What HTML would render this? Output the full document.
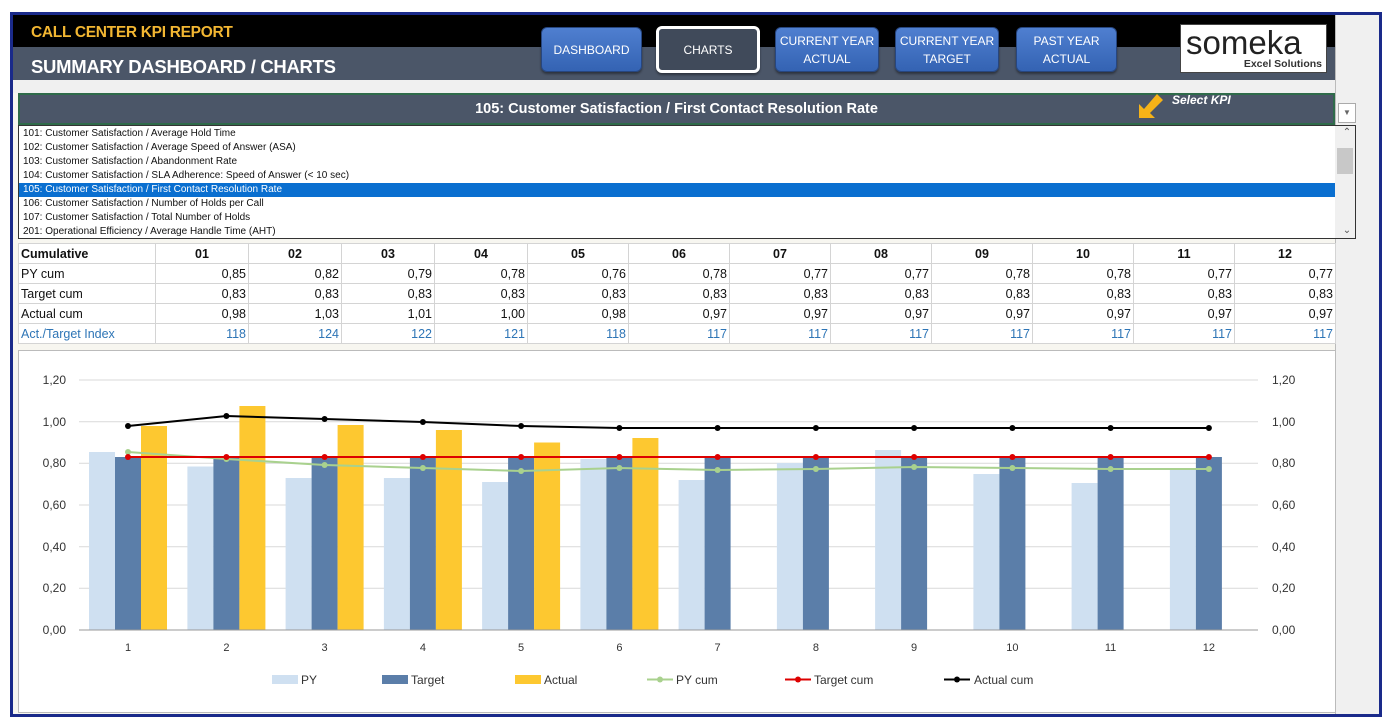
<!DOCTYPE html>
<html><head><meta charset="utf-8"><style>
*{margin:0;padding:0;box-sizing:border-box}
body{width:1392px;height:727px;background:#fff;position:relative;overflow:hidden;font-family:"Liberation Sans",sans-serif}
.abs{position:absolute}
.frame{left:10px;top:12px;width:1372px;height:705px;border:3px solid #1a2a8a;background:#f7f6f0}
.btn{position:absolute;top:27px;height:45px;background:linear-gradient(#4f7fd0,#3463b3);border:1px solid #27467f;border-radius:6px;color:#fff;font-size:12px;text-align:center;display:flex;align-items:center;justify-content:center;line-height:18px;box-shadow:0 2px 2px rgba(0,0,0,.4)}
.list div{height:14px;font-size:10px;line-height:14px;padding-left:4px;color:#111;white-space:nowrap}
table{border-collapse:collapse;position:absolute;left:18px;top:243px;font-size:12.5px;background:#fff}
td{border:1px solid #d4d4d4;height:20px;padding:0 2px;text-align:right;color:#111}
td:first-child{text-align:left;width:137px}
tr.h td{font-weight:bold;text-align:center}
tr.h td:first-child{text-align:left}
tr.i td{color:#2e75b6}
</style></head><body>
<div class="abs frame"></div>
<div class="abs" style="left:13px;top:15px;width:1322px;height:32px;background:#000"></div>
<div class="abs" style="left:13px;top:47px;width:1322px;height:33px;background:#4b5668"></div>
<div class="abs" style="left:1335px;top:15px;width:44px;height:699px;background:#f0f0f0;border-left:1px solid #bbb"></div>
<div class="abs" style="left:31px;top:24px;color:#f2b632;font-weight:bold;font-size:15.5px;letter-spacing:-0.3px">CALL CENTER KPI REPORT</div>
<div class="abs" style="left:31px;top:56px;color:#fff;font-weight:bold;font-size:18.5px;letter-spacing:-0.3px">SUMMARY DASHBOARD / CHARTS</div>
<div class="btn" style="left:541px;width:101px">DASHBOARD</div>
<div class="btn" style="left:656px;width:104px;background:#404a5a;border:3px solid #fff;top:26px;height:47px">CHARTS</div>
<div class="btn" style="left:775px;width:104px">CURRENT YEAR<br>ACTUAL</div>
<div class="btn" style="left:895px;width:104px">CURRENT YEAR<br>TARGET</div>
<div class="btn" style="left:1016px;width:101px">PAST YEAR<br>ACTUAL</div>
<div class="abs" style="left:1180px;top:24px;width:147px;height:49px;background:#fff;border:1px solid #444">
<div class="abs" style="left:5px;top:-1px;font-size:33px;color:#222">someka</div>
<div class="abs" style="right:4px;top:33px;font-size:10.5px;font-weight:bold;color:#333">Excel Solutions</div></div>
<div class="abs" style="left:13px;top:80px;width:1322px;height:13px;background:#f0f0f0"></div>
<div class="abs" style="left:18px;top:93px;width:1317px;height:32px;background:#4b5668;border:2px solid #2f6b4a;color:#fff;font-weight:bold;font-size:14.5px;text-align:center;line-height:28px">105: Customer Satisfaction / First Contact Resolution Rate</div>
<div class="abs" style="left:1137px;top:90px;width:30px;height:30px"><svg width="30" height="30"><polygon points="2,28 2,14 7,19 20,4 26,10 13,23 18,28" fill="#f6b318"/></svg></div>
<div class="abs" style="left:1172px;top:93px;color:#fff;font-style:italic;font-weight:bold;font-size:12px">Select KPI</div>
<div class="abs" style="left:1338px;top:103px;width:18px;height:20px;background:#fff;border:1px solid #aaa;font-size:8px;color:#666;text-align:center;line-height:18px">▼</div>
<div class="abs list" style="left:18px;top:125px;width:1338px;height:114px;background:#fff;border:1px solid #333;padding-top:1px">
<div>101: Customer Satisfaction / Average Hold Time</div>
<div>102: Customer Satisfaction / Average Speed of Answer (ASA)</div>
<div>103: Customer Satisfaction / Abandonment Rate</div>
<div>104: Customer Satisfaction / SLA Adherence: Speed of Answer (&lt; 10 sec)</div>
<div style="background:#0a6fd0;color:#fff;width:1316px">105: Customer Satisfaction / First Contact Resolution Rate</div>
<div>106: Customer Satisfaction / Number of Holds per Call</div>
<div>107: Customer Satisfaction / Total Number of Holds</div>
<div>201: Operational Efficiency / Average Handle Time (AHT)</div>
<div class="abs" style="left:1316px;top:0;width:20px;height:112px;background:#f0f0f0;padding:0"><div style="height:22px;text-align:center;color:#555">⌃</div><div style="background:#c8c8c8;height:26px;margin:0 2px"></div><div style="position:absolute;bottom:0;width:20px;text-align:center;color:#555">⌄</div></div>
</div>
<table>
<tr class="h"><td>Cumulative</td><td style="width:93px">01</td><td style="width:93px">02</td><td style="width:93px">03</td><td style="width:93px">04</td><td style="width:101px">05</td><td style="width:101px">06</td><td style="width:101px">07</td><td style="width:101px">08</td><td style="width:101px">09</td><td style="width:101px">10</td><td style="width:101px">11</td><td style="width:101px">12</td></tr>
<tr><td>PY cum</td><td>0,85</td><td>0,82</td><td>0,79</td><td>0,78</td><td>0,76</td><td>0,78</td><td>0,77</td><td>0,77</td><td>0,78</td><td>0,78</td><td>0,77</td><td>0,77</td></tr>
<tr><td>Target cum</td><td>0,83</td><td>0,83</td><td>0,83</td><td>0,83</td><td>0,83</td><td>0,83</td><td>0,83</td><td>0,83</td><td>0,83</td><td>0,83</td><td>0,83</td><td>0,83</td></tr>
<tr><td>Actual cum</td><td>0,98</td><td>1,03</td><td>1,01</td><td>1,00</td><td>0,98</td><td>0,97</td><td>0,97</td><td>0,97</td><td>0,97</td><td>0,97</td><td>0,97</td><td>0,97</td></tr>
<tr class="i"><td>Act./Target Index</td><td>118</td><td>124</td><td>122</td><td>121</td><td>118</td><td>117</td><td>117</td><td>117</td><td>117</td><td>117</td><td>117</td><td>117</td></tr>
</table>
<svg class="abs" style="left:0;top:0" width="1392" height="727" font-family="Liberation Sans, sans-serif">
<rect x="18.5" y="350.5" width="1317" height="362" fill="#fff" stroke="#bbb"/>
<g stroke="#d9d9d9"><line x1="79" x2="1258" y1="380" y2="380"/><line x1="79" x2="1258" y1="421.7" y2="421.7"/><line x1="79" x2="1258" y1="463.3" y2="463.3"/><line x1="79" x2="1258" y1="505" y2="505"/><line x1="79" x2="1258" y1="546.7" y2="546.7"/><line x1="79" x2="1258" y1="588.3" y2="588.3"/></g>
<g font-size="12" fill="#333" text-anchor="end"><text x="66" y="384">1,20</text><text x="66" y="426">1,00</text><text x="66" y="467">0,80</text><text x="66" y="509">0,60</text><text x="66" y="551">0,40</text><text x="66" y="592">0,20</text><text x="66" y="634">0,00</text></g>
<g font-size="12" fill="#333"><text x="1272" y="384">1,20</text><text x="1272" y="426">1,00</text><text x="1272" y="467">0,80</text><text x="1272" y="509">0,60</text><text x="1272" y="551">0,40</text><text x="1272" y="592">0,20</text><text x="1272" y="634">0,00</text></g>
<g fill="#cfe0f1">
<rect x="89" y="452" width="26" height="178"/><rect x="187.4" y="466.5" width="26" height="163.5"/><rect x="285.6" y="478" width="26" height="152"/><rect x="383.9" y="478" width="26" height="152"/><rect x="482.1" y="482" width="26" height="148"/><rect x="580.4" y="459" width="26" height="171"/><rect x="678.6" y="480" width="26" height="150"/><rect x="776.9" y="463" width="26" height="167"/><rect x="875.1" y="450" width="26" height="180"/><rect x="973.4" y="474" width="26" height="156"/><rect x="1071.6" y="483" width="26" height="147"/><rect x="1169.9" y="470" width="26" height="160"/></g>
<g fill="#5b7ea9">
<rect x="115" y="457" width="26" height="173"/><rect x="213.4" y="457" width="26" height="173"/><rect x="311.6" y="457" width="26" height="173"/><rect x="409.9" y="457" width="26" height="173"/><rect x="508.1" y="457" width="26" height="173"/><rect x="606.4" y="457" width="26" height="173"/><rect x="704.6" y="457" width="26" height="173"/><rect x="802.9" y="457" width="26" height="173"/><rect x="901.1" y="457" width="26" height="173"/><rect x="999.4" y="457" width="26" height="173"/><rect x="1097.6" y="457" width="26" height="173"/><rect x="1195.9" y="457" width="26" height="173"/></g>
<g fill="#fdc830">
<rect x="141" y="426" width="26" height="204"/><rect x="239.4" y="406" width="26" height="224"/><rect x="337.6" y="425" width="26" height="205"/><rect x="435.9" y="430" width="26" height="200"/><rect x="534.1" y="442.5" width="26" height="187.5"/><rect x="632.4" y="438" width="26" height="192"/></g>
<line x1="79" x2="1258" y1="630" y2="630" stroke="#999"/>
<g font-size="11" fill="#333" text-anchor="middle"><text x="128" y="651">1</text><text x="226.4" y="651">2</text><text x="324.6" y="651">3</text><text x="422.9" y="651">4</text><text x="521.1" y="651">5</text><text x="619.4" y="651">6</text><text x="717.6" y="651">7</text><text x="815.9" y="651">8</text><text x="914.1" y="651">9</text><text x="1012.4" y="651">10</text><text x="1110.6" y="651">11</text><text x="1208.9" y="651">12</text></g>
<polyline fill="none" stroke="#a9d18e" stroke-width="2" points="128,452 226.4,459 324.6,465 422.9,468 521.1,471 619.4,468 717.6,470 815.9,469 914.1,467 1012.4,468 1110.6,469 1208.9,469"/>
<g fill="#a9d18e"><circle cx="128" cy="452" r="3"/><circle cx="226.4" cy="459" r="3"/><circle cx="324.6" cy="465" r="3"/><circle cx="422.9" cy="468" r="3"/><circle cx="521.1" cy="471" r="3"/><circle cx="619.4" cy="468" r="3"/><circle cx="717.6" cy="470" r="3"/><circle cx="815.9" cy="469" r="3"/><circle cx="914.1" cy="467" r="3"/><circle cx="1012.4" cy="468" r="3"/><circle cx="1110.6" cy="469" r="3"/><circle cx="1208.9" cy="469" r="3"/></g>
<line x1="128" x2="1208.9" y1="457" y2="457" stroke="#d00" stroke-width="2"/>
<g fill="#d00"><circle cx="128" cy="457" r="3"/><circle cx="226.4" cy="457" r="3"/><circle cx="324.6" cy="457" r="3"/><circle cx="422.9" cy="457" r="3"/><circle cx="521.1" cy="457" r="3"/><circle cx="619.4" cy="457" r="3"/><circle cx="717.6" cy="457" r="3"/><circle cx="815.9" cy="457" r="3"/><circle cx="914.1" cy="457" r="3"/><circle cx="1012.4" cy="457" r="3"/><circle cx="1110.6" cy="457" r="3"/><circle cx="1208.9" cy="457" r="3"/></g>
<polyline fill="none" stroke="#000" stroke-width="2" points="128,426 226.4,416 324.6,419 422.9,422 521.1,426 619.4,428 717.6,428 815.9,428 914.1,428 1012.4,428 1110.6,428 1208.9,428"/>
<g fill="#000"><circle cx="128" cy="426" r="3"/><circle cx="226.4" cy="416" r="3"/><circle cx="324.6" cy="419" r="3"/><circle cx="422.9" cy="422" r="3"/><circle cx="521.1" cy="426" r="3"/><circle cx="619.4" cy="428" r="3"/><circle cx="717.6" cy="428" r="3"/><circle cx="815.9" cy="428" r="3"/><circle cx="914.1" cy="428" r="3"/><circle cx="1012.4" cy="428" r="3"/><circle cx="1110.6" cy="428" r="3"/><circle cx="1208.9" cy="428" r="3"/></g>
<g font-size="12" fill="#333">
<rect x="272" y="675" width="26" height="9" fill="#cfe0f1"/><text x="301" y="684">PY</text>
<rect x="382" y="675" width="26" height="9" fill="#5b7ea9"/><text x="411" y="684">Target</text>
<rect x="515" y="675" width="26" height="9" fill="#fdc830"/><text x="544" y="684">Actual</text>
<line x1="647" x2="673" y1="679.5" y2="679.5" stroke="#a9d18e" stroke-width="2"/><circle cx="660" cy="679.5" r="3" fill="#a9d18e"/><text x="676" y="684">PY cum</text>
<line x1="785" x2="811" y1="679.5" y2="679.5" stroke="#d00" stroke-width="2"/><circle cx="798" cy="679.5" r="3" fill="#d00"/><text x="814" y="684">Target cum</text>
<line x1="944" x2="970" y1="679.5" y2="679.5" stroke="#000" stroke-width="2"/><circle cx="957" cy="679.5" r="3" fill="#000"/><text x="974" y="684">Actual cum</text>
</g>
</svg>
</body></html>
